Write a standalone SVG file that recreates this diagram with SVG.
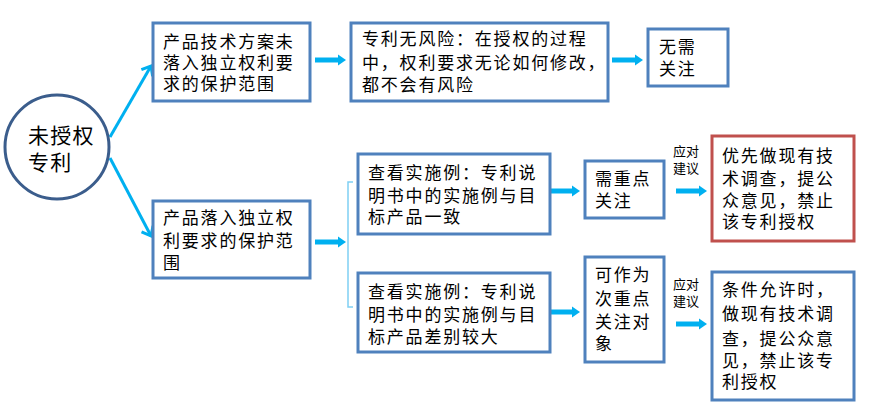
<svg xmlns="http://www.w3.org/2000/svg" width="873" height="409" viewBox="0 0 873 409">
<defs>
<style>
.box{fill:#fff;stroke:#4F81BD;stroke-width:3}
.red{fill:#fff;stroke:#C0504D;stroke-width:3}
.t{font-family:"Noto Sans CJK SC","Noto Sans",sans-serif;font-size:17px;letter-spacing:1.8px;fill:#000}
.s{font-family:"Noto Sans CJK SC","Noto Sans",sans-serif;font-size:13px;fill:#000}
.big{font-family:"Noto Sans CJK SC","Noto Sans",sans-serif;font-size:21px;letter-spacing:1.3px;fill:#000}
.thick{stroke:#00B0F0;stroke-width:5;fill:none}
.thin{stroke:#00B0F0;stroke-width:3;fill:none}
</style>
<marker id="ah" markerUnits="userSpaceOnUse" markerWidth="12" markerHeight="14" viewBox="0 -7 10 14" refX="0" refY="0" orient="auto">
<path d="M0,-5.5 L8,0 L0,5.5 z" fill="#00B0F0"/>
</marker>
<marker id="ch" markerUnits="userSpaceOnUse" markerWidth="14" markerHeight="16" viewBox="-10 -8 12 16" refX="0" refY="0" orient="auto">
<path d="M-8,-6.5 L0,0 L-8,6.5" fill="none" stroke="#00B0F0" stroke-width="3"/>
</marker>
</defs>

<g id="connectors">
<line class="thin" x1="110" y1="137" x2="151" y2="66" marker-end="url(#ch)"/>
<line class="thin" x1="110" y1="158" x2="151" y2="236" marker-end="url(#ch)"/>
<line class="thick" x1="315" y1="60" x2="338" y2="60" marker-end="url(#ah)"/>
<line class="thick" x1="612" y1="60" x2="635" y2="60" marker-end="url(#ah)"/>
<line class="thick" x1="315" y1="242" x2="338" y2="242" marker-end="url(#ah)"/>
<path d="M353,182 H348 V307 H353" fill="none" stroke="#7FD0F4" stroke-width="1.5"/>
<line class="thick" x1="551" y1="191" x2="572" y2="191" marker-end="url(#ah)"/>
<line class="thick" x1="551" y1="312" x2="572" y2="312" marker-end="url(#ah)"/>
<line class="thick" x1="676" y1="191" x2="699" y2="191" marker-end="url(#ah)"/>
<line class="thick" x1="676" y1="324" x2="699" y2="324" marker-end="url(#ah)"/>
</g>

<g id="root">
<circle cx="57" cy="147" r="52" fill="#fff" stroke="#3B5D8C" stroke-width="3"/>
<text class="big" x="28" y="143">未授权<tspan x="28" dy="27">专利</tspan></text>
</g>

<g id="n1">
<rect class="box" x="153" y="23" width="157" height="78"/>
<text class="t" x="163" y="48">产品技术方案未<tspan x="163" dy="21">落入独立权利要</tspan><tspan x="163" dy="21">求的保护范围</tspan></text>
</g>

<g id="n2">
<rect class="box" x="351" y="23" width="257" height="78"/>
<text class="t" x="362" y="45">专利无风险：在授权的过程<tspan x="362" dy="24">中，权利要求无论如何修改，</tspan><tspan x="362" dy="22">都不会有风险</tspan></text>
</g>

<g id="n3">
<rect class="box" x="648" y="29" width="80" height="57"/>
<text class="t" x="659" y="53">无需<tspan x="659" dy="22">关注</tspan></text>
</g>

<g id="n4">
<rect class="box" x="153" y="201" width="157" height="77"/>
<text class="t" x="163" y="224">产品落入独立权<tspan x="163" dy="23">利要求的保护范</tspan><tspan x="163" dy="22">围</tspan></text>
</g>

<g id="n5">
<rect class="box" x="358" y="154" width="192" height="80"/>
<text class="t" x="368" y="179">查看实施例：专利说<tspan x="368" dy="23">明书中的实施例与目</tspan><tspan x="368" dy="21">标产品一致</tspan></text>
</g>

<g id="n6">
<rect class="box" x="585" y="161" width="79" height="57"/>
<text class="t" x="595" y="185">需重点<tspan x="595" dy="22">关注</tspan></text>
</g>

<g id="lbl1">
<text class="s" x="673" y="156">应对<tspan x="673" dy="17">建议</tspan></text>
</g>

<g id="n7">
<rect class="red" x="712" y="136" width="142" height="105"/>
<text class="t" x="722" y="162">优先做现有技<tspan x="722" dy="23">术调查，提公</tspan><tspan x="722" dy="22">众意见，禁止</tspan><tspan x="722" dy="21">该专利授权</tspan></text>
</g>

<g id="n8">
<rect class="box" x="358" y="273" width="192" height="79"/>
<text class="t" x="368" y="298">查看实施例：专利说<tspan x="368" dy="23">明书中的实施例与目</tspan><tspan x="368" dy="22">标产品差别较大</tspan></text>
</g>

<g id="n9">
<rect class="box" x="585" y="257" width="79" height="105"/>
<text class="t" x="595" y="281">可作为<tspan x="595" dy="24">次重点</tspan><tspan x="595" dy="23">关注对</tspan><tspan x="595" dy="22">象</tspan></text>
</g>

<g id="lbl2">
<text class="s" x="673" y="289">应对<tspan x="673" dy="17">建议</tspan></text>
</g>

<g id="n10">
<rect class="box" x="712" y="272" width="142" height="128"/>
<text class="t" x="722" y="296">条件允许时，<tspan x="722" dy="24">做现有技术调</tspan><tspan x="722" dy="25">查，提公众意</tspan><tspan x="722" dy="22">见，禁止该专</tspan><tspan x="722" dy="21">利授权</tspan></text>
</g>
</svg>
